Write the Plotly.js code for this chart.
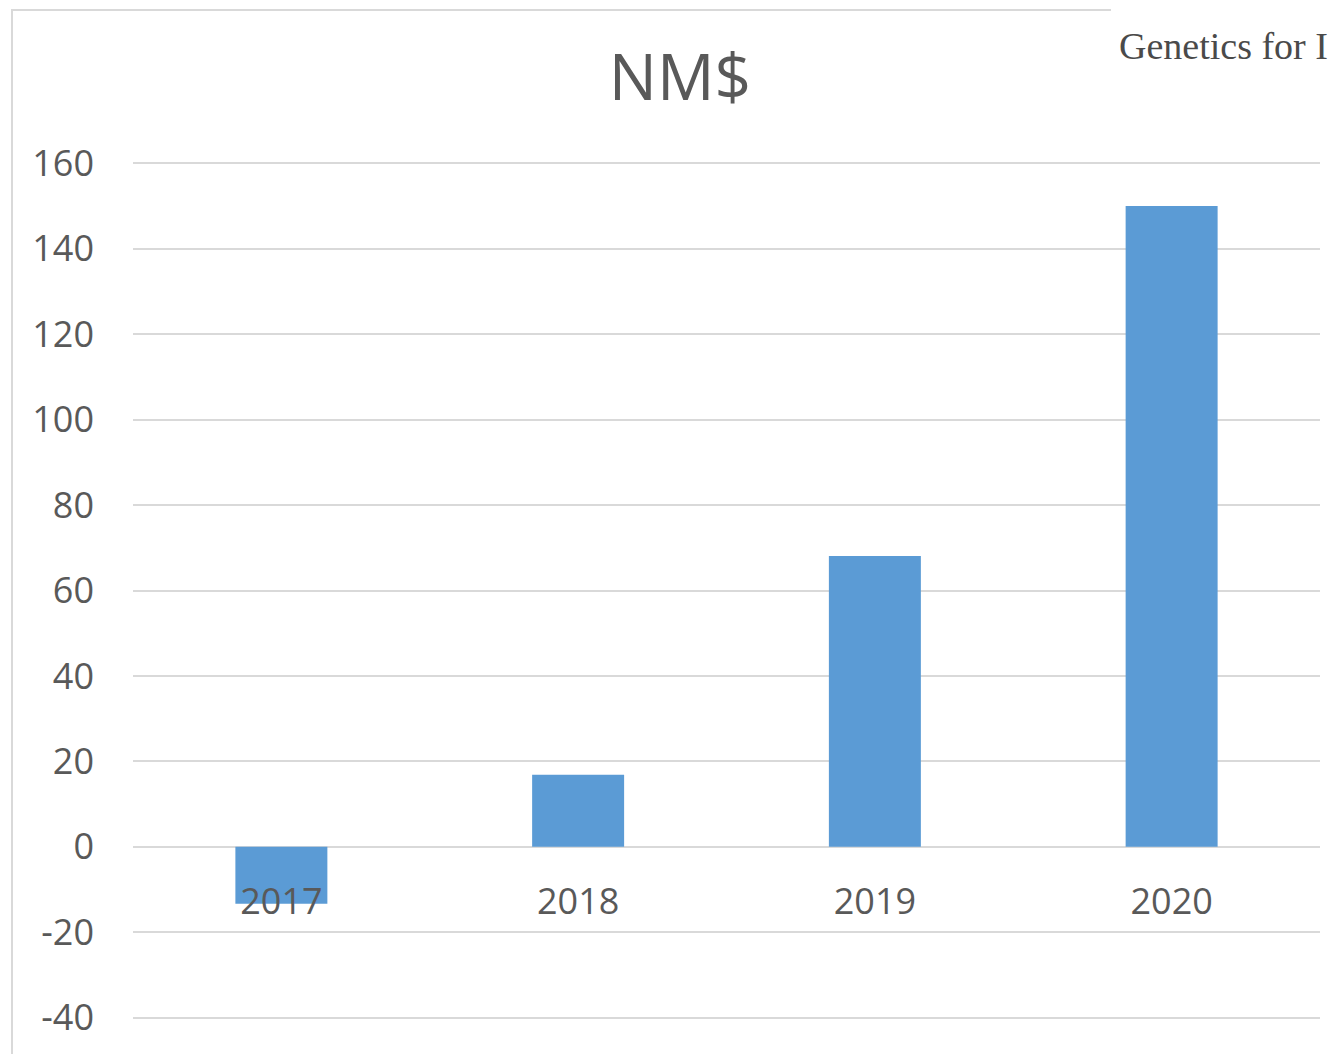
<!DOCTYPE html>
<html><head><meta charset="utf-8">
<script src="https://cdn.plot.ly/plotly-3.0.1.min.js"></script>
<style>html,body{margin:0;padding:0;background:#fff;}#chart{width:1335px;height:1054px;}</style>
</head><body><div id="chart"></div>
<script>
const categories = ["2017", "2018", "2019", "2020"];
const nmValues = [-13.3, 16.9, 68.1, 150.0];
const yTickValues = [-40, -20, 0, 20, 40, 60, 80, 100, 120, 140, 160];
const yTickLabels = ["-40", "-20", "0", "20", "40", "60", "80", "100", "120", "140", "160"];
const chartTitle = "NM$";
const cornerText = "Genetics for I";

const W = 1335, H = 1054;
const L = 133, R = 15, T = 159, B = 32;
const pw = W - L - R, ph = H - T - B;
const px = v => (v - L) / pw;
const py = v => (H - B - v) / ph;
const yMin = -41, yMax = 161;

const trace = {
  type: 'bar', x: categories, y: nmValues,
  marker: {color: '#5b9bd5'}, hoverinfo: 'x+y'
};
const layout = {
  width: W, height: H,
  margin: {l: L, r: R, t: T, b: B, autoexpand: false},
  paper_bgcolor: '#ffffff', plot_bgcolor: '#ffffff',
  showlegend: false, bargap: 0.69,
  font: {family: '"Open Sans", sans-serif', color: '#595959'},
  title: {text: chartTitle, font: {size: 64, color: '#595959', family: '"Open Sans", sans-serif'},
          x: 680 / W, xref: 'container', xanchor: 'center', y: 1 - 78 / H, yanchor: 'middle'},
  xaxis: {
    type: 'category', anchor: 'free', position: -yMin / (yMax - yMin), showgrid: false, zeroline: false,
    showline: false, ticks: '', tickfont: {size: 36, color: '#595959'}, ticklabelstandoff: 30,
    automargin: false, layer: 'above traces'
  },
  yaxis: {
    range: [yMin, yMax], tickvals: yTickValues, ticktext: yTickLabels, showgrid: true, gridcolor: '#d9d9d9', gridwidth: 2,
    zeroline: true, zerolinecolor: '#d9d9d9', zerolinewidth: 2, showline: false, ticks: '',
    tickfont: {size: 36, color: '#595959'}, ticklabelstandoff: 38, automargin: false
  },
  shapes: [
    {type: 'line', xref: 'paper', yref: 'paper', x0: px(11), x1: px(1111), y0: py(10), y1: py(10),
     line: {color: '#d9d9d9', width: 2}},
    {type: 'line', xref: 'paper', yref: 'paper', x0: px(12), x1: px(12), y0: py(10), y1: py(1060),
     line: {color: '#d9d9d9', width: 2}}
  ],
  annotations: [
    {text: cornerText, xref: 'paper', yref: 'paper', x: px(1117), y: py(46), xanchor: 'left', yanchor: 'middle',
     showarrow: false, font: {family: '"Liberation Serif", serif', size: 38, color: '#4a4a4a'}}
  ]
};
Plotly.newPlot('chart', [trace], layout, {displayModeBar: false, staticPlot: true});
</script></body></html>
